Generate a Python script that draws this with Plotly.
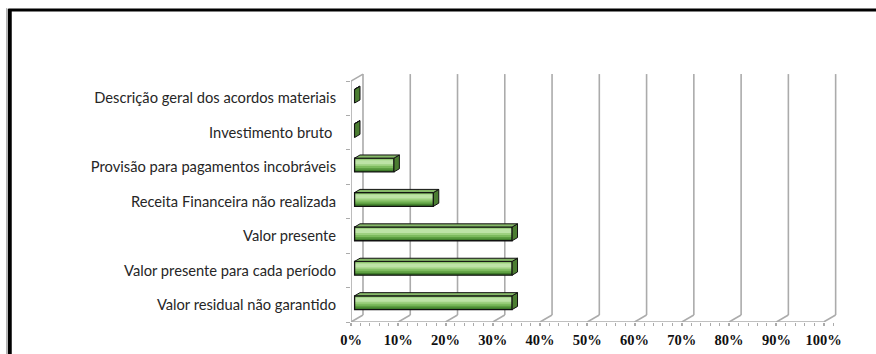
import plotly.graph_objects as go

# ---------------- data ----------------
categories = [
    "Descrição geral dos acordos materiais",
    "Investimento bruto ",
    "Provisão para pagamentos incobráveis",
    "Receita Financeira não realizada",
    "Valor presente",
    "Valor presente para cada período",
    "Valor residual não garantido",
]
values = [0.0, 0.0, 8.33, 16.67, 33.33, 33.33, 33.33]   # percent, top -> bottom
x_ticks = [0, 10, 20, 30, 40, 50, 60, 70, 80, 90, 100]
x_tick_labels = [f"{v}%" for v in x_ticks]

# ---------------- geometry ----------------
W, H = 876, 354
PXX = 4.73      # px per percent (front plane)
PXY = 34.43     # px per category
X0, YB = 351, 322
DXP, DYP = 12, 7            # depth of the 3D box in px
Dx, Dy = DXP / PXX, DYP / PXY
F0, F1 = 0.30, 0.75         # bar depth span (fraction of box depth)
BW = 0.40                   # bar thickness in category units

n = len(categories)
pos = [n - 1 - k for k in range(n)]   # top category at highest index

xr = [0, 100 + Dx + 0.5]
yr = [-0.5, n - 0.5 + Dy + 0.06]
pw = (xr[1] - xr[0]) * PXX
ph = (yr[1] - yr[0]) * PXY
ml, mb = X0, H - YB
mr = W - ml - pw
mt = H - mb - ph

GRID = "#ababab"

fig = go.Figure()

base = F0 * Dx
off = F0 * Dy - BW / 2

# gradient layers of the bar front face (bottom darker, top lighter)
layers = [
    (0.00, 1.00, "#3f7d2a"),
    (0.15, 1.00, "#5e9f42"),
    (0.28, 0.96, "#7dbb5e"),
    (0.42, 0.92, "#9dd07f"),
    (0.56, 0.85, "#bde3a6"),
]
for lo, hi, col in layers:
    fig.add_trace(go.Bar(
        orientation="h", y=pos, x=values, base=base,
        width=BW * (hi - lo), offset=off + BW * lo,
        marker=dict(color=col, line=dict(width=0)),
        hoverinfo="skip", showlegend=False,
    ))
# outline of the front face
fig.add_trace(go.Bar(
    orientation="h", y=pos, x=values, base=base,
    width=BW, offset=off,
    marker=dict(color="rgba(0,0,0,0)", line=dict(color="#111", width=1.3)),
    hoverinfo="skip", showlegend=False,
))

shapes = []
# back wall grid lines + floor diagonals
for t in x_ticks:
    shapes.append(dict(type="line", xref="x", yref="y", layer="below",
                       x0=t + Dx, x1=t + Dx, y0=-0.5 + Dy, y1=n - 0.5 + Dy,
                       line=dict(color=GRID, width=1.6)))
    shapes.append(dict(type="line", xref="x", yref="y", layer="below",
                       x0=t, x1=t + Dx, y0=-0.5, y1=-0.5 + Dy,
                       line=dict(color=GRID, width=1.6)))
# front axis lines
shapes.append(dict(type="line", xref="x", yref="y", layer="below",
                   x0=0, x1=100, y0=-0.5, y1=-0.5, line=dict(color=GRID, width=1.6)))
shapes.append(dict(type="line", xref="x", yref="y", layer="below",
                   x0=0, x1=0, y0=-0.5, y1=n - 0.5, line=dict(color=GRID, width=1.6)))
shapes.append(dict(type="line", xref="x", yref="y", layer="below",
                   x0=0, x1=Dx, y0=n - 0.5, y1=n - 0.5 + Dy, line=dict(color=GRID, width=1.6)))

# 3D faces of bars
ddx, ddy = (F1 - F0) * Dx, (F1 - F0) * Dy
for p, v in zip(pos, values):
    xe = base + v
    yb0 = p + off
    yt0 = yb0 + BW
    top = (f"M {base},{yt0} L {xe},{yt0} L {xe + ddx},{yt0 + ddy} "
           f"L {base + ddx},{yt0 + ddy} Z")
    side = (f"M {xe},{yb0} L {xe + ddx},{yb0 + ddy} L {xe + ddx},{yt0 + ddy} "
            f"L {xe},{yt0} Z")
    shapes.append(dict(type="path", xref="x", yref="y", path=side,
                       fillcolor="#4b7d31", line=dict(color="#111", width=1)))
    shapes.append(dict(type="path", xref="x", yref="y", path=top,
                       fillcolor="#86b968", line=dict(color="#111", width=1)))


# outer black frame (partially visible)
def px_x(px):
    return (px - ml) / pw


def px_y(py):
    return (H - mb - py) / ph


shapes.append(dict(type="line", xref="paper", yref="paper",
                   x0=px_x(9.5), x1=px_x(9.5), y0=px_y(9), y1=px_y(360),
                   line=dict(color="#000", width=4)))
shapes.append(dict(type="line", xref="paper", yref="paper",
                   x0=px_x(8), x1=px_x(880), y0=px_y(10), y1=px_y(10),
                   line=dict(color="#000", width=3)))
shapes.append(dict(type="line", xref="paper", yref="paper",
                   x0=px_x(6.5), x1=px_x(6.5), y0=px_y(8), y1=px_y(360),
                   line=dict(color="#9a9a9a", width=1)))

fig.update_layout(
    width=W, height=H,
    margin=dict(l=ml, r=mr, t=mt, b=mb, pad=0),
    paper_bgcolor="white", plot_bgcolor="rgba(0,0,0,0)",
    barmode="overlay",
    shapes=shapes,
    xaxis=dict(
        range=xr, showgrid=False, zeroline=False, showline=False,
        tickvals=x_ticks, ticktext=x_tick_labels,
        ticks="outside", ticklen=3, tickcolor=GRID, tickwidth=1.5,
        minor=dict(dtick=2, tick0=0, ticks="outside", ticklen=3,
                   tickcolor=GRID, tickwidth=1.3, showgrid=False),
        tickfont=dict(family="Liberation Serif", size=14.5, color="#111",
                      weight="bold"),
        ticklabelstandoff=2, automargin=False, fixedrange=True,
    ),
    yaxis=dict(
        range=yr, showgrid=False, zeroline=False, showline=False,
        tickvals=pos, ticktext=categories, ticks="",
        minor=dict(tickvals=[k - 0.5 for k in range(n + 1)], ticks="outside",
                   ticklen=4, tickcolor=GRID, tickwidth=1.3, showgrid=False),
        tickfont=dict(family="Lato", size=14.7, color="#262626"),
        ticklabelstandoff=14, automargin=False, fixedrange=True,
    ),
)

fig.write_html("out.html")
